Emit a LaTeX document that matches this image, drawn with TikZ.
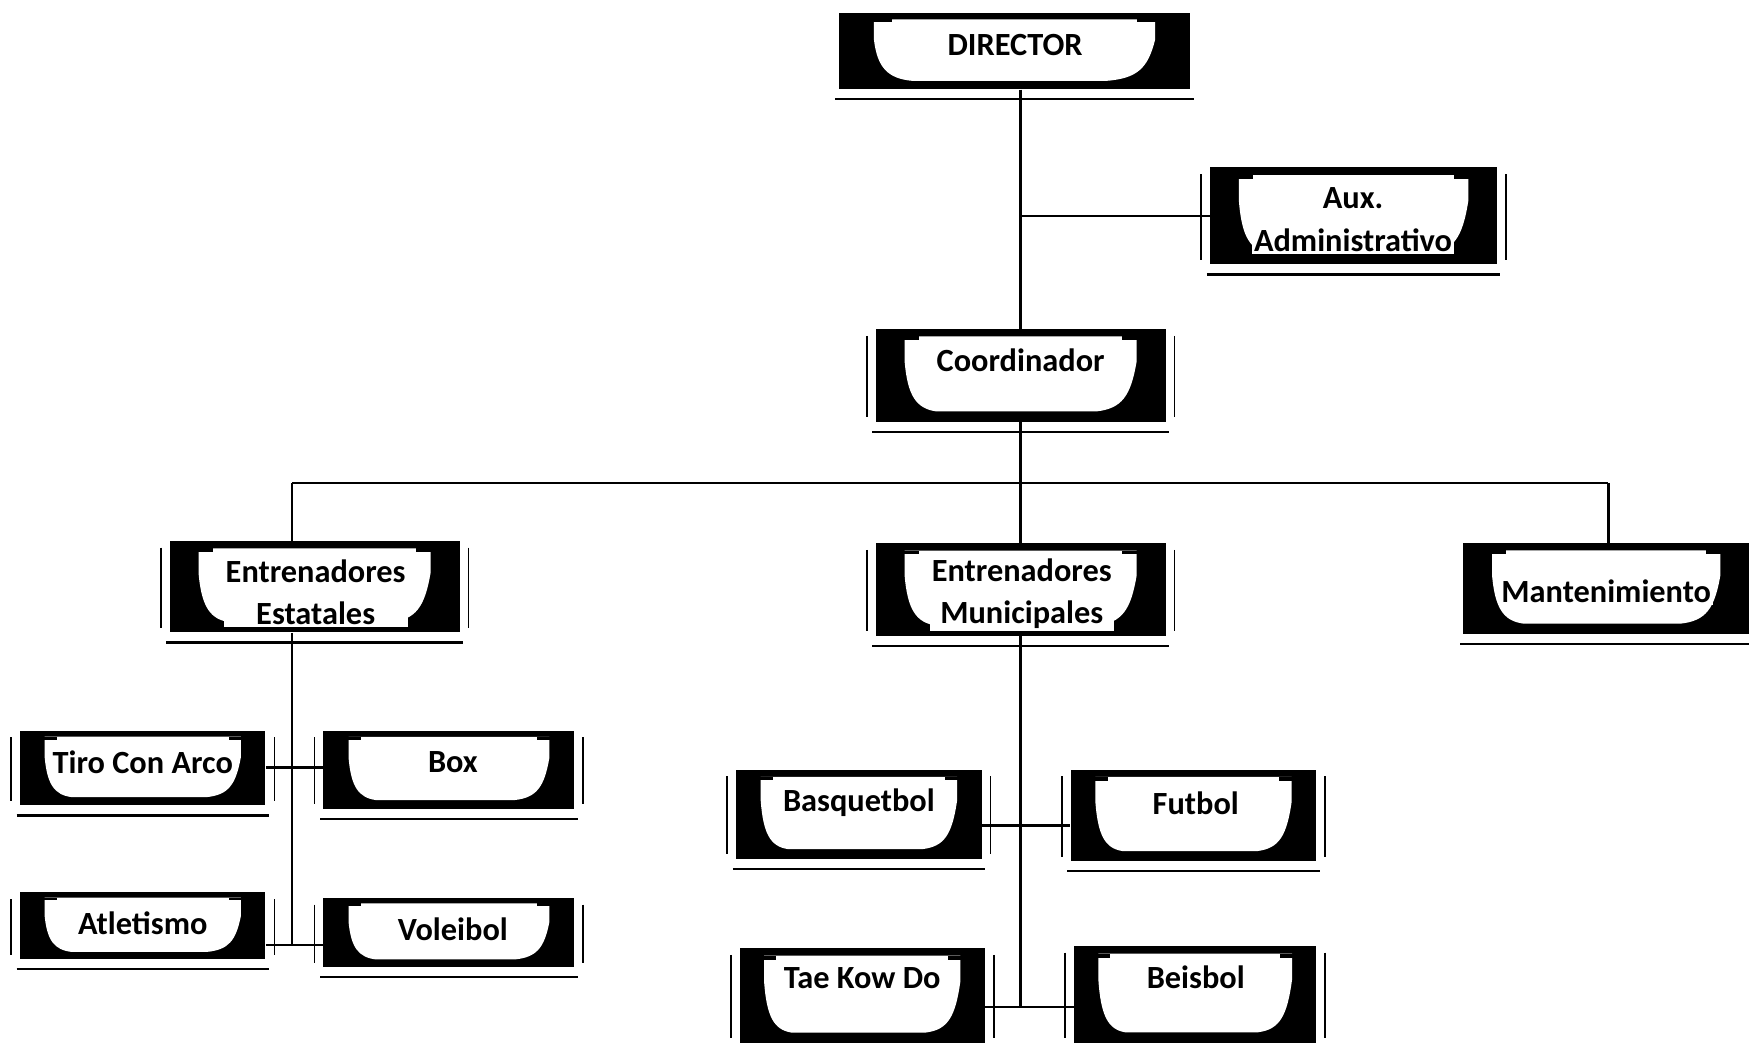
\documentclass[tikz,border=0pt]{standalone}
\usepackage{fontspec}
\setmainfont{Carlito}
\usetikzlibrary{calc}
\tikzset{
  conn/.style={line width=1.1pt, black},
  shadeline/.style={line width=1pt, black},
  sideline/.style={line width=0.8pt, black},
  lbl/.style={font=\bfseries\fontsize{14.5}{19}\selectfont, fill=white, inner sep=1pt, align=center},
  anchorbox/.style={inner sep=0pt, draw=none}
}
% #1 sides flag, #2 name, #3 x0, #4 y0, #5 x1, #6 y1, #7 text position, #8 text
\newcommand{\orgbox}[8][1]{%
  \fill[black] (#3,#4) rectangle (#5,#6);
  \begin{scope}[shift={(#3,#4)}, xscale={#5-#3}, yscale={#6-#4}]
    \fill[white] (0.1,0.08) -- (0.9,0.08) -- (0.9,0.35)
      .. controls (0.88,0.72) and (0.85,0.86) .. (0.76,0.89) -- (0.21,0.89)
      .. controls (0.14,0.86) and (0.11,0.72) .. (0.1,0.35) -- cycle;
    \fill[black] (0.07,0.08) rectangle (0.15,0.12);
    \fill[black] (0.85,0.08) rectangle (0.93,0.12);
  \end{scope}
  \draw[shadeline] ($(#3,#6)+(-3,9)$) -- ($(#5,#6)+(3,9)$);
  \ifnum#1=1
    \draw[sideline] ($(#3,#4)+(-8,6)$) -- ($(#3,#6)+(-8,-4)$);
    \draw[sideline] ($(#5,#4)+(8,6)$) -- ($(#5,#6)+(8,-4)$);
  \fi
  \node[anchorbox, minimum width={(#5-#3)*0.5pt}, minimum height={(#6-#4)*0.5pt}] (#2) at ({(#3+#5)/2},{(#4+#6)/2}) {};
  \node[lbl] (#2-t) at (#7) {#8};
}
\begin{document}
\begin{tikzpicture}[x=0.5pt, y=-0.5pt]
\useasboundingbox[fill=white] (0,0) rectangle (1568,939);

% boxes
\orgbox[0]{dir}{752}{12}{1067}{80}{910,40}{DIRECTOR}
\orgbox{aux}{1085}{150}{1342}{237}{1213,197}{Aux.\\Administrativo}
\orgbox{coord}{785}{295}{1045}{378}{915,323}{Coordinador}
\orgbox{est}{152}{485}{412}{567}{283,531}{Entrenadores\\Estatales}
\orgbox{mun}{785}{487}{1045}{570}{916,532}{Entrenadores\\Municipales}
\orgbox[0]{mant}{1312}{487}{1568}{568}{1440,530}{Mantenimiento}
\orgbox{tiro}{18}{655}{238}{722}{128,683}{Tiro Con Arco}
\orgbox{box}{290}{655}{515}{725}{406,683}{Box}
\orgbox{atl}{18}{800}{238}{860}{128,828}{Atletismo}
\orgbox{vol}{290}{805}{515}{867}{406,833}{Voleibol}
\orgbox{basq}{660}{690}{880}{770}{770,720}{Basquetbol}
\orgbox{fut}{960}{690}{1180}{772}{1072,720}{Futbol}
\orgbox{tae}{663}{850}{883}{935}{773,877}{Tae Kow Do}
\orgbox{beis}{963}{848}{1180}{935}{1072,876}{Beisbol}

% junction coordinates
\coordinate (bl) at (262,433);
\coordinate (br) at (1442,433);
\coordinate (e1) at (262,688);
\coordinate (e2) at (262,847);
\coordinate (m1) at (915,740);
\coordinate (m2) at (915,903);

% connectors
\draw[conn] (coord.north |- dir.south) -- (coord.north);
\draw[conn] (coord.north |- aux.west) -- (aux.west);
\draw[conn] (coord.south) -- (mun.north);
\draw[conn] (bl) -- (br);
\draw[conn] (bl) -- (bl |- est.north);
\draw[conn] (br) -- (br |- mant.north);
\draw[conn] (bl |- est.south) -- (e2);
\draw[conn] (tiro.east |- e1) -- (box.west |- e1);
\draw[conn] (atl.east |- e2) -- (vol.west |- e2);
\draw[conn] (mun.south) -- (m2);
\draw[conn] (basq.east |- m1) -- (fut.west |- m1);
\draw[conn] (tae.east |- m2) -- (beis.west |- m2);
\end{tikzpicture}
\end{document}
